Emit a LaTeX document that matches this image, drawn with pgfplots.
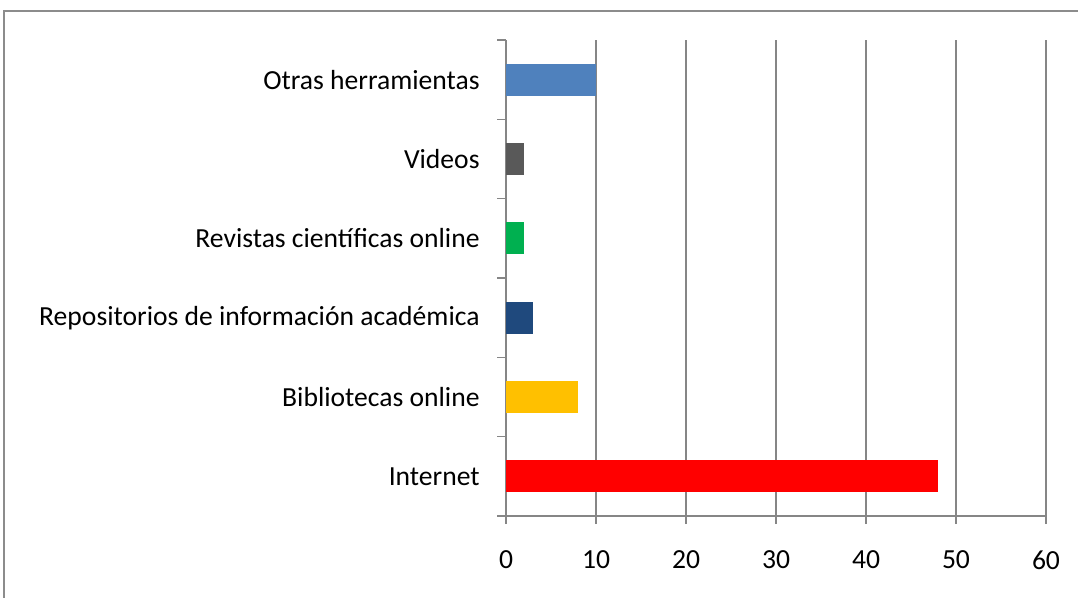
\documentclass[border=0pt]{standalone}
\usepackage{fontspec}
\setmainfont{Carlito}
\usepackage{pgfplots}
\pgfplotsset{compat=1.18}
\definecolor{gridc}{HTML}{868686}
\definecolor{frm}{HTML}{8C8C8C}
\definecolor{c1}{HTML}{FF0000}
\definecolor{c2}{HTML}{FFC000}
\definecolor{c3}{HTML}{1F497D}
\definecolor{c4}{HTML}{00B050}
\definecolor{c5}{HTML}{595959}
\definecolor{c6}{HTML}{4F81BD}
\begin{document}
\fontsize{13.8bp}{16bp}\selectfont
\begin{tikzpicture}
\useasboundingbox (0,0) rectangle (539bp,299bp);
\draw[frm, line width=0.8bp] (2bp,0) -- (2bp,293.5bp) -- (540bp,293.5bp);
\begin{axis}[
  at={(253bp,41bp)}, anchor=south west,
  scale only axis, width=270bp, height=238bp,
  xbar, bar width=16bp, bar shift=0pt,
  xmin=0, xmax=60, ymin=-0.5, ymax=5.5,
  xtick={0,10,...,60},
  ytick={0,...,5},
  yticklabels={Internet, Bibliotecas online, Repositorios de información académica, Revistas científicas online, Videos, Otras herramientas},
  minor ytick={-0.5,0.5,...,5.5},
  axis x line=bottom, axis y line=left,
  axis line style={gridc, line width=0.8bp, -},
  xmajorgrids, major grid style={gridc, line width=0.8bp},
  tick align=outside,
  major tick length=4bp,
  minor tick length=4.5bp,
  xtick style={gridc, line width=0.8bp},
  ytick style={draw=none},
  minor y tick style={draw=gridc, line width=0.8bp},
  /pgf/number format/assume math mode=true,
  xticklabel style={font=\fontsize{13.8bp}{16bp}\selectfont, inner sep=0pt, anchor=north, yshift=-13bp},
  yticklabel style={font=\fontsize{13.8bp}{16bp}\selectfont, inner sep=0pt, anchor=east, xshift=-9bp},
  tick label style={text=black},
  clip=false,
]
\addplot[fill=c1, draw=none] coordinates {(48,0)};
\addplot[fill=c2, draw=none] coordinates {(8,1)};
\addplot[fill=c3, draw=none] coordinates {(3,2)};
\addplot[fill=c4, draw=none] coordinates {(2,3)};
\addplot[fill=c5, draw=none] coordinates {(2,4)};
\addplot[fill=c6, draw=none] coordinates {(10,5)};
\end{axis}
\end{tikzpicture}
\end{document}
